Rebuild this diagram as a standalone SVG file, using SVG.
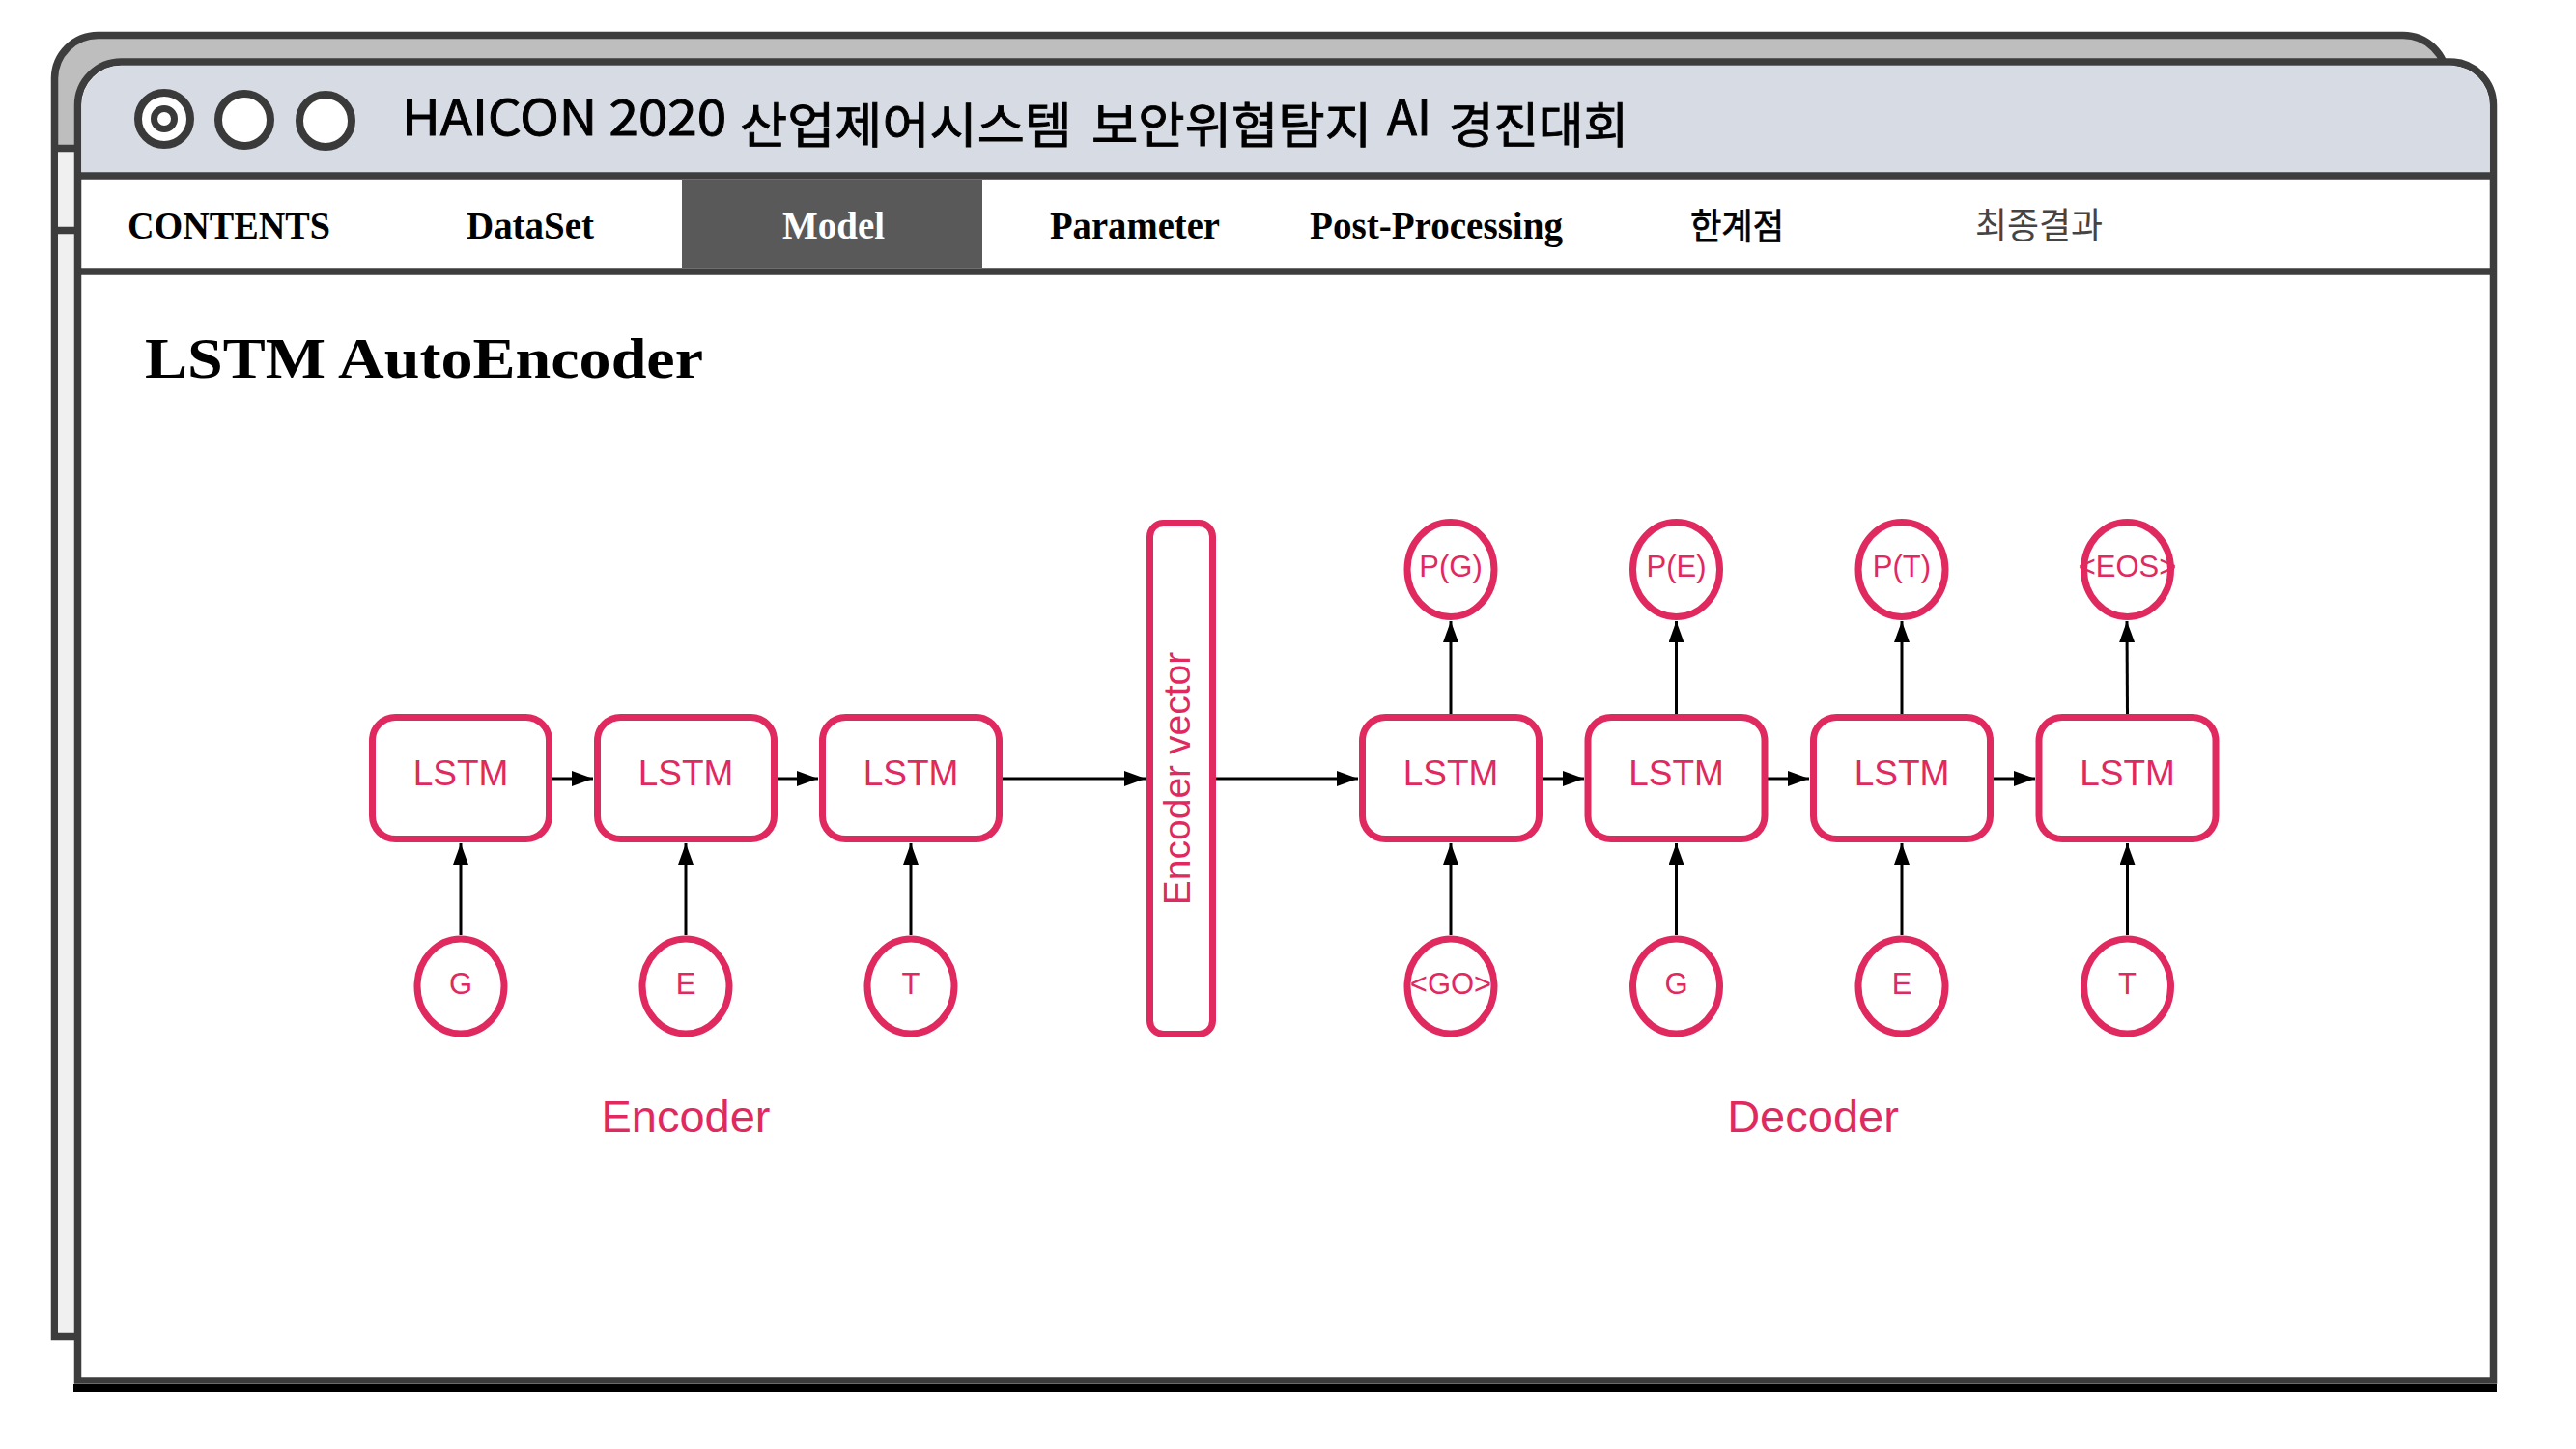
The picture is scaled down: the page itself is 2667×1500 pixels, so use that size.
<svg xmlns="http://www.w3.org/2000/svg" width="2667" height="1500" viewBox="0 0 2667 1500">
<defs>
<style>
.frame{stroke:#3d3d3d;stroke-width:7.5}
.nav{font-family:"Liberation Serif",serif;font-weight:bold;font-size:39px;fill:#000}
.ttl{font-family:"Noto Sans CJK KR","Noto Sans",sans-serif;font-size:50px;fill:#000;stroke:#000;stroke-width:0.9}
.kor{font-family:"Noto Sans CJK KR",sans-serif;font-size:37px}
.box{fill:#fff;stroke:#e02a5f;stroke-width:7}
.circ{fill:#fff;stroke:#e02a5f;stroke-width:7}
.lbl{font-family:"Liberation Sans",Arial,sans-serif;fill:#e02a5f;text-anchor:middle}
.conn line{stroke:#000;stroke-width:3;marker-end:url(#ah)}
</style>
<marker id="ah" markerUnits="userSpaceOnUse" markerWidth="22" markerHeight="16" refX="22" refY="8" orient="auto">
<path d="M0,0 L22,8 L0,16 Z" fill="#000"/>
</marker>
</defs>
<rect width="2667" height="1500" fill="#fff"/>

<g id="back-window">
<path class="frame" d="M56.5 1383.5 V81 A45 45 0 0 1 101.5 36.5 H2488 A45 45 0 0 1 2533 81 V1383.5 Z" fill="#bebebe"/>
<rect x="60" y="153.5" width="2469" height="1226" fill="#f0f0f0"/>
<line class="frame" x1="56.5" y1="153.5" x2="2533" y2="153.5"/>
<line class="frame" x1="56.5" y1="238.5" x2="2533" y2="238.5"/>
</g>

<g id="front-window">
<path class="frame" d="M80.5 1429 V109 A45 45 0 0 1 125.5 64 H2536.5 A45 45 0 0 1 2581.5 109 V1429 Z" fill="#fff"/>
<path d="M84.5 182 V109 A41 41 0 0 1 125.5 68 H2536.5 A41 41 0 0 1 2577.5 109 V182 Z" fill="#d7dce4"/>
<rect x="706" y="186" width="311" height="91" fill="#595959"/>
<line class="frame" x1="80.5" y1="182" x2="2581.5" y2="182" stroke-width="8"/>
<line class="frame" x1="80.5" y1="281" x2="2581.5" y2="281" stroke-width="8"/>
<rect x="76" y="1433" width="2509" height="8" fill="#000"/>
</g>

<g id="window-buttons">
<circle cx="170" cy="123" r="27" fill="#fff" stroke="#3a3a3a" stroke-width="8"/>
<circle cx="170" cy="123" r="10.5" fill="#fff" stroke="#3a3a3a" stroke-width="7"/>
<circle cx="253" cy="124" r="27" fill="#fff" stroke="#3a3a3a" stroke-width="8"/>
<circle cx="337" cy="125" r="27" fill="#fff" stroke="#3a3a3a" stroke-width="8"/>
</g>

<g id="title">
<text class="ttl" x="416" y="140" textLength="336" lengthAdjust="spacingAndGlyphs">HAICON 2020</text>
<text class="ttl" x="766" y="148" textLength="344" lengthAdjust="spacingAndGlyphs">산업제어시스템</text>
<text class="ttl" x="1130" y="148" textLength="290" lengthAdjust="spacingAndGlyphs">보안위협탐지</text>
<text class="ttl" x="1436" y="140" textLength="46" lengthAdjust="spacingAndGlyphs">AI</text>
<text class="ttl" x="1500" y="148" textLength="186" lengthAdjust="spacingAndGlyphs">경진대회</text>
</g>

<g id="nav">
<text class="nav" x="132" y="247" textLength="210" lengthAdjust="spacingAndGlyphs">CONTENTS</text>
<text class="nav" x="483" y="247" textLength="132" lengthAdjust="spacingAndGlyphs">DataSet</text>
<text class="nav" x="810" y="247" textLength="106" lengthAdjust="spacingAndGlyphs" style="fill:#fff">Model</text>
<text class="nav" x="1087" y="247" textLength="176" lengthAdjust="spacingAndGlyphs">Parameter</text>
<text class="nav" x="1356" y="247" textLength="262" lengthAdjust="spacingAndGlyphs">Post-Processing</text>
<text class="kor" x="1750" y="248" textLength="97" lengthAdjust="spacingAndGlyphs" fill="#000" stroke="#000" stroke-width="0.8">한계점</text>
<text class="kor" x="2045" y="247" textLength="132" lengthAdjust="spacingAndGlyphs" fill="#444">최종결과</text>
</g>

<text id="page-title" x="150" y="391" font-family="Liberation Serif,serif" font-weight="bold" font-size="59" textLength="578" lengthAdjust="spacingAndGlyphs">LSTM AutoEncoder</text>

<g id="connectors" class="conn">
<line x1="477" y1="968" x2="477" y2="873"/>
<line x1="710" y1="968" x2="710" y2="873"/>
<line x1="943" y1="968" x2="943" y2="873"/>
<line x1="572" y1="806" x2="614" y2="806"/>
<line x1="805" y1="806" x2="847" y2="806"/>
<line x1="1038" y1="806" x2="1186" y2="806"/>
<line x1="1259" y1="806" x2="1406" y2="806"/>
<line x1="1597" y1="806" x2="1640" y2="806"/>
<line x1="1830" y1="806" x2="1873" y2="806"/>
<line x1="2064" y1="806" x2="2107" y2="806"/>
<line x1="1502" y1="968" x2="1502" y2="873"/>
<line x1="1735.5" y1="968" x2="1735.5" y2="873"/>
<line x1="1969" y1="968" x2="1969" y2="873"/>
<line x1="2202.5" y1="968" x2="2202.5" y2="873"/>
<line x1="1502" y1="739" x2="1502" y2="643"/>
<line x1="1735.5" y1="739" x2="1735.5" y2="643"/>
<line x1="1969" y1="739" x2="1969" y2="643"/>
<line x1="2202.5" y1="739" x2="2202" y2="643"/>
</g>

<g id="enc-lstm1"><rect class="box" x="385.5" y="742.5" width="183" height="126" rx="24"/><text class="lbl" x="477" y="813" font-size="37">LSTM</text></g>
<g id="enc-lstm2"><rect class="box" x="618.5" y="742.5" width="183" height="126" rx="24"/><text class="lbl" x="710" y="813" font-size="37">LSTM</text></g>
<g id="enc-lstm3"><rect class="box" x="851.5" y="742.5" width="183" height="126" rx="24"/><text class="lbl" x="943" y="813" font-size="37">LSTM</text></g>

<g id="enc-in-G"><ellipse class="circ" cx="477" cy="1021" rx="45" ry="49"/><text class="lbl" x="477" y="1029" font-size="31">G</text></g>
<g id="enc-in-E"><ellipse class="circ" cx="710" cy="1021" rx="45" ry="49"/><text class="lbl" x="710" y="1029" font-size="31">E</text></g>
<g id="enc-in-T"><ellipse class="circ" cx="943" cy="1021" rx="45" ry="49"/><text class="lbl" x="943" y="1029" font-size="31">T</text></g>

<g id="encoder-vector"><rect class="box" x="1190.5" y="541.5" width="65" height="529" rx="14"/><text class="lbl" font-size="39" transform="translate(1232 806) rotate(-90)">Encoder vector</text></g>

<g id="dec-lstm1"><rect class="box" x="1410.5" y="742.5" width="183" height="126" rx="24"/><text class="lbl" x="1502" y="813" font-size="37">LSTM</text></g>
<g id="dec-lstm2"><rect class="box" x="1644" y="742.5" width="183" height="126" rx="24"/><text class="lbl" x="1735.5" y="813" font-size="37">LSTM</text></g>
<g id="dec-lstm3"><rect class="box" x="1877.5" y="742.5" width="183" height="126" rx="24"/><text class="lbl" x="1969" y="813" font-size="37">LSTM</text></g>
<g id="dec-lstm4"><rect class="box" x="2111" y="742.5" width="183" height="126" rx="24"/><text class="lbl" x="2202.5" y="813" font-size="37">LSTM</text></g>

<g id="dec-in-GO"><ellipse class="circ" cx="1502" cy="1021" rx="45" ry="49"/><text class="lbl" x="1502" y="1029" font-size="31">&lt;GO&gt;</text></g>
<g id="dec-in-G"><ellipse class="circ" cx="1735.5" cy="1021" rx="45" ry="49"/><text class="lbl" x="1735.5" y="1029" font-size="31">G</text></g>
<g id="dec-in-E"><ellipse class="circ" cx="1969" cy="1021" rx="45" ry="49"/><text class="lbl" x="1969" y="1029" font-size="31">E</text></g>
<g id="dec-in-T"><ellipse class="circ" cx="2202.5" cy="1021" rx="45" ry="49"/><text class="lbl" x="2202.5" y="1029" font-size="31">T</text></g>

<g id="dec-out-PG"><ellipse class="circ" cx="1502" cy="589.5" rx="45" ry="49"/><text class="lbl" x="1502" y="597" font-size="31">P(G)</text></g>
<g id="dec-out-PE"><ellipse class="circ" cx="1735.5" cy="589.5" rx="45" ry="49"/><text class="lbl" x="1735.5" y="597" font-size="31">P(E)</text></g>
<g id="dec-out-PT"><ellipse class="circ" cx="1969" cy="589.5" rx="45" ry="49"/><text class="lbl" x="1969" y="597" font-size="31">P(T)</text></g>
<g id="dec-out-EOS"><ellipse class="circ" cx="2202.5" cy="589.5" rx="45" ry="49"/><text class="lbl" x="2202.5" y="597" font-size="31">&lt;EOS&gt;</text></g>

<text id="label-encoder" class="lbl" x="710" y="1172" font-size="47">Encoder</text>
<text id="label-decoder" class="lbl" x="1877" y="1172" font-size="47">Decoder</text>
</svg>
